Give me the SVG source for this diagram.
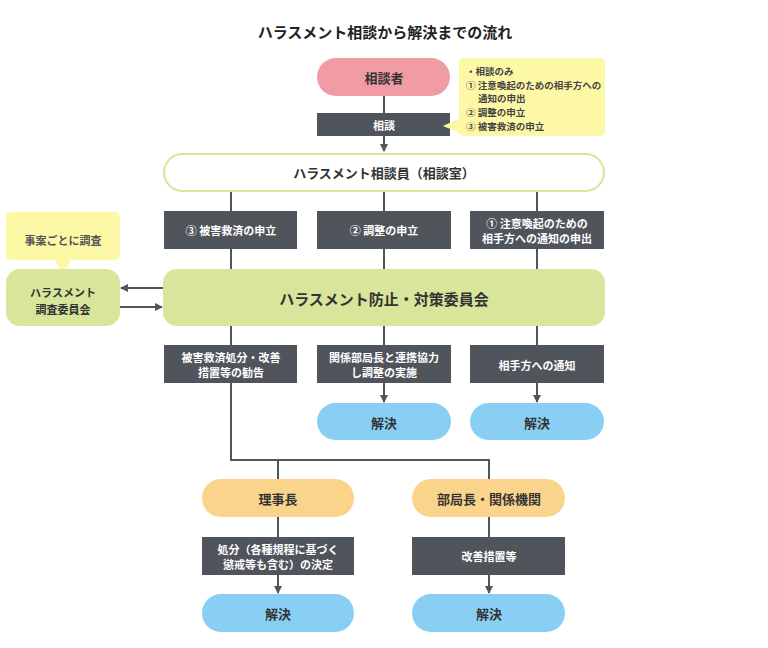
<svg xmlns="http://www.w3.org/2000/svg" width="768" height="648" viewBox="0 0 768 648">
<defs>
<marker id="ah" markerWidth="8" markerHeight="8" refX="7" refY="4" orient="auto" markerUnits="userSpaceOnUse">
<path d="M0,0 L8,4 L0,8 Z" fill="#50545b"/>
</marker>
<style>
text{font-family:"Noto Sans CJK JP","Noto Sans",sans-serif;font-weight:bold;text-anchor:middle;dominant-baseline:central}
.dark{fill:#50545b}
.wt{fill:#ffffff;font-size:11px}
.lbl{fill:#333333;font-size:13px}
.note{fill:#fdf8a5}
.nt{fill:#444444;font-size:9.5px;text-anchor:start}
.green{fill:#d8e69b}
.blue{fill:#88cff3}
.orange{fill:#fbd48c}
.ln{stroke:#50545b;stroke-width:2;fill:none}
</style>
</defs>
<rect width="768" height="648" fill="#ffffff"/>
<text x="385" y="31" style="font-size:15px;fill:#222">ハラスメント相談から解決までの流れ</text>

<g id="connectors">
<path class="ln" d="M384,96 V113"/>
<path class="ln" d="M384,136 V151" marker-end="url(#ah)"/>
<path class="ln" d="M231,192 V269 M384,192 V269 M537,192 V269"/>
<path class="ln" d="M231,326 V460 H489 V479 M278,460 V479"/>
<path class="ln" d="M384,326 V345 M537,326 V345"/>
<path class="ln" d="M384,383 V402" marker-end="url(#ah)"/>
<path class="ln" d="M537,383 V402" marker-end="url(#ah)"/>
<path class="ln" d="M163,288 H121" marker-end="url(#ah)"/>
<path class="ln" d="M120,307 H162" marker-end="url(#ah)"/>
<path class="ln" d="M278,517 V537 M489,517 V537"/>
<path class="ln" d="M278,575 V593" marker-end="url(#ah)"/>
<path class="ln" d="M489,575 V593" marker-end="url(#ah)"/>
</g>

<g id="soudansha">
<rect x="317" y="58" width="133" height="38" rx="19" fill="#f19ba5"/>
<text x="384" y="77" class="lbl">相談者</text>
</g>
<g id="soudan">
<rect x="317" y="113" width="133" height="23" class="dark"/>
<text x="384" y="125" class="wt">相談</text>
</g>
<g id="note1">
<rect x="459" y="58" width="146" height="78" rx="5" class="note"/>
<path d="M460,118 L443,126 L460,133 Z" class="note"/>
<text x="466" y="71" class="nt">・相談のみ</text>
<text x="466" y="85" class="nt">① 注意喚起のための相手方への</text>
<text x="478" y="98" class="nt">通知の申出</text>
<text x="466" y="112" class="nt">② 調整の申立</text>
<text x="466" y="126" class="nt">③ 被害救済の申立</text>
</g>
<g id="soudanin">
<rect x="164" y="154" width="440" height="37" rx="18.5" fill="#ffffff" stroke="#d8e69b" stroke-width="2"/>
<text x="384" y="172" class="lbl">ハラスメント相談員（相談室）</text>
</g>
<g id="b3">
<rect x="164" y="211" width="133" height="38" class="dark"/>
<text x="231" y="230" class="wt">③ 被害救済の申立</text>
</g>
<g id="b2">
<rect x="317" y="211" width="134" height="38" class="dark"/>
<text x="384" y="230" class="wt">② 調整の申立</text>
</g>
<g id="b1">
<rect x="470" y="211" width="134" height="38" class="dark"/>
<text x="537" y="223" class="wt">① 注意喚起のための</text>
<text x="537" y="238" class="wt">相手方への通知の申出</text>
</g>
<g id="note2">
<rect x="6" y="212" width="114" height="48" rx="5" class="note"/>
<path d="M55,259 L63,276 L71,259 Z" class="note"/>
<text x="63" y="240" style="font-size:11px;fill:#555">事案ごとに調査</text>
</g>
<g id="chousa">
<rect x="6" y="269" width="114" height="57" rx="14" class="green"/>
<text x="63" y="292" style="font-size:11px;fill:#333">ハラスメント</text>
<text x="63" y="309" style="font-size:11px;fill:#333">調査委員会</text>
</g>
<g id="iinkai">
<rect x="163" y="269" width="442" height="57" rx="14" class="green"/>
<text x="384" y="298" style="font-size:15px;fill:#333">ハラスメント防止・対策委員会</text>
</g>
<g id="c1">
<rect x="164" y="345" width="133" height="38" class="dark"/>
<text x="231" y="357" class="wt">被害救済処分・改善</text>
<text x="231" y="372" class="wt">措置等の勧告</text>
</g>
<g id="c2">
<rect x="317" y="345" width="134" height="38" class="dark"/>
<text x="384" y="357" class="wt">関係部局長と連携協力</text>
<text x="384" y="372" class="wt">し調整の実施</text>
</g>
<g id="c3">
<rect x="470" y="345" width="134" height="38" class="dark"/>
<text x="537" y="365" class="wt">相手方への通知</text>
</g>
<g id="k2">
<rect x="317" y="403" width="134" height="37" rx="18.5" class="blue"/>
<text x="384" y="422" class="lbl">解決</text>
</g>
<g id="k3">
<rect x="470" y="403" width="134" height="37" rx="18.5" class="blue"/>
<text x="537" y="422" class="lbl">解決</text>
</g>
<g id="rijichou">
<rect x="202" y="479" width="152" height="38" rx="19" class="orange"/>
<text x="278" y="498" class="lbl">理事長</text>
</g>
<g id="bukyoku">
<rect x="412" y="479" width="153" height="38" rx="19" class="orange"/>
<text x="489" y="498" class="lbl">部局長・関係機関</text>
</g>
<g id="d1">
<rect x="202" y="537" width="152" height="38" class="dark"/>
<text x="278" y="549" class="wt">処分（各種規程に基づく</text>
<text x="278" y="564" class="wt">懲戒等も含む）の決定</text>
</g>
<g id="d2">
<rect x="412" y="537" width="153" height="38" class="dark"/>
<text x="489" y="556" class="wt">改善措置等</text>
</g>
<g id="k4">
<rect x="202" y="594" width="152" height="38" rx="19" class="blue"/>
<text x="278" y="613" class="lbl">解決</text>
</g>
<g id="k5">
<rect x="412" y="594" width="153" height="38" rx="19" class="blue"/>
<text x="489" y="613" class="lbl">解決</text>
</g>
</svg>
